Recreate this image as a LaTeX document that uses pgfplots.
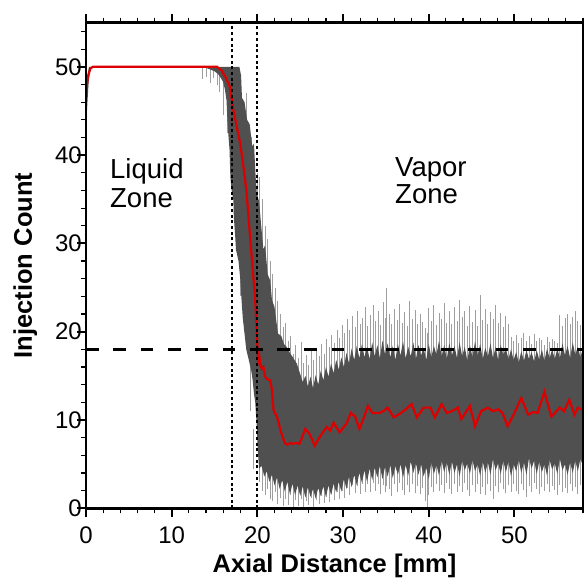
\documentclass[border=0pt]{standalone}
\usepackage{fontspec}
\setmainfont{Liberation Sans}
\usepackage{pgfplots}
\usepackage{pgfplotstable}
\pgfplotsset{compat=1.18}
\definecolor{coregray}{HTML}{505050}
\definecolor{spikegray}{HTML}{9E9E9E}
\definecolor{meanred}{HTML}{DD0000}

% light-gray outlier spikes: x, lowest value, highest value
\pgfplotstableread{
x lo hi
13.6 48.6 50
14.1 48.9 50
14.5 48.2 50
14.9 48.7 50
15.3 47.9 50
15.6 47.2 50
16.1 44.5 49
16.5 42.5 47.5
16.9 38.0 44.0
17.4 33.0 38.5
18.0 24.0 30.0
18.5 20.0 25.0
18.7 38.0 47.0
19.2 11.0 17.0
19.3 34.0 42.0
19.6 4.5 9.0
20.0 30.0 38.0
20.3 3.0 37.5
20.6 2.0 35.0
20.9 1.5 32.0
21.2 2.2 30.5
21.5 1.0 28.0
21.8 0.8 26.5
22.1 1.8 25.0
22.4 0.5 23.5
22.7 1.2 22.0
23.0 0.3 20.5
23.3 1.0 21.0
23.6 0.4 19.0
23.9 1.5 19.5
24.2 0.2 17.5
24.5 0.9 18.5
24.8 0.3 17.0
25.1 1.1 18.8
25.4 0.1 16.5
25.7 0.8 17.4
26.0 0.4 16.2
26.3 1.2 17.8
26.6 0.2 16.8
26.9 0.9 18.0
27.2 0.5 17.2
27.5 1.4 18.6
27.8 0.6 17.5
28.1 1.3 19.2
28.4 0.7 18.3
28.7 1.6 19.6
29.0 0.9 18.7
29.3 1.8 20.2
29.6 1.0 19.3
29.9 2.0 20.8
30.2 1.2 19.8
30.5 2.3 21.4
30.8 1.5 20.2
31.1 2.6 21.8
31.4 1.7 20.5
31.7 2.5 22.3
32.0 1.6 20.9
32.3 2.8 21.6
32.6 1.9 22.8
32.9 2.7 20.6
33.2 1.8 21.9
33.5 2.9 23.0
33.8 2.0 21.2
34.1 2.8 22.4
34.4 1.6 20.8
34.7 2.6 23.4
35.0 1.9 21.5
35.1 2.5 25.0
35.4 2.2 22.0
35.7 1.4 20.9
36.0 2.7 22.6
36.3 1.8 21.3
36.6 2.9 23.1
36.9 2.1 21.0
37.2 1.5 22.2
37.5 2.6 20.7
37.8 1.9 23.5
38.1 2.8 21.4
38.4 1.7 22.5
38.7 2.5 20.9
39.0 1.6 22.0
39.3 2.3 21.1
39.6 0.8 20.4
39.8 0.0 19.8
40.0 1.5 22.7
40.3 2.4 21.2
40.6 1.8 23.0
40.9 2.8 20.8
41.2 2.0 22.1
41.5 2.6 21.4
41.8 1.7 23.3
42.1 2.9 21.0
42.4 2.2 22.4
42.7 1.6 20.9
43.0 2.7 22.8
43.3 1.9 21.2
43.6 2.5 23.6
43.9 1.8 21.7
44.2 2.9 22.3
44.5 2.1 20.6
44.8 1.4 22.9
45.1 2.6 21.1
45.4 1.9 22.5
45.7 2.8 20.7
46.0 1.6 24.2
46.3 2.4 21.3
46.6 1.5 22.6
46.9 2.7 20.9
47.2 2.0 22.2
47.5 1.1 21.4
47.8 2.5 23.0
48.1 1.8 21.0
48.4 2.9 22.1
48.7 2.2 20.5
49.0 1.7 21.8
49.3 2.6 20.9
49.6 1.9 19.4
49.9 2.8 18.9
50.2 2.0 19.6
50.5 1.6 18.7
50.8 2.7 19.3
51.1 2.1 19.8
51.4 1.3 18.9
51.7 2.5 19.5
52.0 1.8 18.6
52.3 2.9 19.7
52.6 2.2 18.9
52.9 1.6 19.3
53.2 2.4 19.1
53.5 2.0 18.5
53.8 2.7 19.4
54.1 1.9 18.8
54.4 2.5 19.2
54.7 2.1 19.0
55.0 1.5 18.7
55.3 2.6 21.9
55.6 1.8 20.6
55.9 2.3 21.6
56.2 1.7 22.0
56.5 2.8 20.9
56.8 2.0 21.7
57.1 2.4 22.3
57.4 1.6 21.2
57.7 2.6 20.8
57.95 2.0 21.5
}\spikes

\begin{document}
\begin{tikzpicture}
\begin{axis}[
  scale only axis,
  width=497bp, height=485.6bp,
  xmin=0, xmax=58, ymin=0, ymax=55,
  xtick={0,10,20,30,40,50},
  ytick={0,10,20,30,40,50},
  minor xtick={0,2,...,58},
  minor ytick={0,2,...,54},
  tick align=outside,
  xtick pos=both,
  ytick pos=left,
  axis line style={line width=2.5bp},
  major tick length=9bp,
  minor tick length=5bp,
  major tick style={line width=2bp, black},
  minor tick style={line width=1.2bp, black},
  /pgf/number format/assume math mode=true,
  ticklabel style={font=\fontsize{24bp}{28bp}\selectfont},
  xticklabel style={anchor=base, yshift=-25.7bp},
  yticklabel style={anchor=east, inner sep=0pt, xshift=5bp},
  xlabel={Axial Distance [mm]},
  ylabel={Injection Count},
  xlabel style={font=\bfseries\fontsize{25.5bp}{30bp}\selectfont,
    at={(axis description cs:0.5,-0.1332)}, anchor=base},
  ylabel style={font=\bfseries\fontsize{25.5bp}{30bp}\selectfont,
    at={(axis description cs:-0.1087,0.5)}, anchor=base},
  axis on top,
]
% outlier spikes
\addplot[draw=none, forget plot,
  error bars/.cd, y dir=plus, y explicit, error mark=none,
  error bar style={draw=spikegray, line width=1bp}]
  table[x=x, y=lo, y error plus expr=\thisrow{hi}-\thisrow{lo}] {\spikes};
% dense band
\addplot[fill=coregray, draw=none, forget plot] coordinates {
(0,43.8) (0.1,47) (0.2,49.2) (0.35,50) (17.9,50)
(18.1,49.0) (18.2,46.5) (18.5,46.0) (18.8,44.0) (19.1,43.5) (19.4,41.0) (19.6,41.3)
(19.8,37.5) (19.95,35.5) (20.2,34.8) (20.4,32.5) (20.7,29.3) (20.9,29.8) (21.2,26.5)
(21.5,25.8) (21.7,23.6) (22.0,22.8) (22.4,19.8) (22.8,19.5) (23.1,18.6) (23.4,18.3)
(23.8,17.6) (24.2,17.0) (24.6,16.4) (25.0,15.2)
(25.3,14.3) (25.6,15.0) (25.9,13.8) (26.2,14.9) (26.5,13.6) (26.8,15.1) (27.1,14.0)
(27.4,15.6) (27.7,14.5) (28.0,16.0) (28.3,14.9) (28.6,16.4) (28.9,15.3) (29.2,16.8)
(29.5,15.7) (29.8,17.1) (30.1,16.0) (30.4,17.6) (30.7,16.4) (31.0,18.1) (31.3,16.8)
(31.6,18.4) (31.9,17.0) (32.2,18.6) (32.5,17.1) (32.8,18.3) (33.1,16.9) (33.4,18.8)
(33.7,17.2) (34.0,18.5) (34.3,17.0) (34.6,19.0) (34.9,17.4) (35.2,18.7) (35.5,17.1)
(35.8,18.4) (36.1,16.8) (36.4,18.6) (36.7,17.3) (37.0,18.9) (37.3,17.0) (37.6,18.3)
(37.9,17.2) (38.2,18.8) (38.5,16.9) (38.8,18.5) (39.1,17.3) (39.4,18.2) (39.7,16.8)
(40.0,18.6) (40.3,17.1) (40.6,18.4) (40.9,17.4) (41.2,19.0) (41.5,17.2) (41.8,18.5)
(42.1,16.9) (42.4,18.7) (42.7,17.3) (43.0,18.4) (43.3,17.0) (43.6,18.8) (43.9,17.2)
(44.2,18.3) (44.5,16.7) (44.8,18.5) (45.1,17.1) (45.4,18.9) (45.7,17.3) (46.0,18.6)
(46.3,16.9) (46.6,18.2) (46.9,17.2) (47.2,18.7) (47.5,17.0) (47.8,18.3) (48.1,16.8)
(48.4,18.5) (48.7,17.4) (49.0,18.1) (49.3,16.9) (49.6,18.0) (49.9,16.8) (50.2,17.7)
(50.5,16.5) (50.8,17.8) (51.1,16.7) (51.4,17.9) (51.7,16.9) (52.0,17.7) (52.3,16.6)
(52.6,17.9) (52.9,16.8) (53.2,18.0) (53.5,16.7) (53.8,18.1) (54.1,17.0) (54.4,18.0)
(54.7,16.9) (55.0,18.1) (55.3,17.0) (55.6,18.7) (55.9,17.3) (56.2,18.4) (56.5,17.0)
(56.8,18.8) (57.1,17.4) (57.4,18.3) (57.7,17.1) (58.0,18.2)
(58.0,4.8) (57.7,5.6) (57.4,4.2) (57.1,5.4) (56.8,4.0) (56.5,5.2) (56.2,3.8) (55.9,5.0)
(55.6,4.3) (55.3,5.6) (55.0,3.9) (54.7,5.1) (54.4,4.4) (54.1,5.5) (53.8,3.7) (53.5,5.0)
(53.2,4.1) (52.9,5.3) (52.6,3.9) (52.3,5.4) (52.0,4.5) (51.7,5.7) (51.4,3.8) (51.1,5.2)
(50.8,4.0) (50.5,5.5) (50.2,4.2) (49.9,5.0) (49.6,3.6) (49.3,5.3) (49.0,4.1) (48.7,5.4)
(48.4,3.9) (48.1,5.1) (47.8,4.3) (47.5,5.6) (47.2,3.8) (46.9,5.2) (46.6,4.0) (46.3,5.3)
(46.0,3.7) (45.7,5.0) (45.4,4.2) (45.1,5.5) (44.8,3.9) (44.5,5.1) (44.2,4.3) (43.9,5.4)
(43.6,3.6) (43.3,5.0) (43.0,4.0) (42.7,5.3) (42.4,3.8) (42.1,5.2) (41.8,4.1) (41.5,5.4)
(41.2,3.7) (40.9,4.9) (40.6,3.9) (40.3,5.2) (40.0,3.3) (39.7,4.6) (39.4,3.6) (39.1,5.0)
(38.8,3.8) (38.5,5.1) (38.2,4.0) (37.9,5.3) (37.6,3.7) (37.3,4.9) (37.0,3.5) (36.7,5.0)
(36.4,3.8) (36.1,4.8) (35.8,3.4) (35.5,4.9) (35.2,3.6) (34.9,4.7) (34.6,3.3) (34.3,4.8)
(34.0,3.5) (33.7,4.6) (33.4,3.2) (33.1,4.5) (32.8,3.0) (32.5,4.3) (32.2,2.9) (31.9,4.0)
(31.6,2.6) (31.3,3.8) (31.0,2.4) (30.7,3.6) (30.4,2.2) (30.1,3.3) (29.8,1.9) (29.5,3.0)
(29.2,1.8) (28.9,2.8) (28.6,1.5) (28.3,2.6) (28.0,1.3) (27.7,2.5) (27.4,1.4) (27.1,2.3)
(26.8,1.1) (26.5,2.2) (26.2,1.3) (25.9,2.4) (25.6,1.2) (25.3,2.5) (25.0,1.4) (24.7,2.6)
(24.4,1.5) (24.1,2.8) (23.8,1.6) (23.5,3.0) (23.2,1.9) (22.9,3.2) (22.6,2.2) (22.3,3.5)
(22.0,2.6) (21.7,3.8) (21.4,3.0) (21.1,4.2) (20.8,3.6) (20.5,4.8) (20.2,4.5) (20.05,6.5)
(19.95,9) (19.85,10.5) (19.75,12) (19.6,13) (19.45,14.5) (19.3,15.5) (19.0,16.8)
(18.7,18.0) (18.5,19.8) (18.3,21.5) (18.15,23.6) (18.0,26.0) (17.8,28.0) (17.5,29.3)
(17.4,31.0) (17.25,33.0) (17.2,34.9) (17.0,36.0) (16.85,37.5) (16.8,39.0) (16.75,40.6)
(16.6,42.5) (16.5,44.0) (16.4,46.2) (16.2,47.5) (16.0,48.3) (15.7,48.8) (15.4,49.2)
(15.0,49.5) (14.5,49.7) (14.0,49.9) (13.5,50) (0.6,50) (0.45,49.3) (0.3,48.2)
(0.2,46.5) (0.1,44.8) (0.05,43.8)
} -- cycle;
% mean
\addplot[meanred, line width=2.2bp, forget plot] coordinates {
(0,46.5) (0.2,48.8) (0.5,49.8) (0.8,50) (15.3,50) (15.8,49.6) (16.3,48.8) (16.8,47.7)
(17.2,45.1) (17.6,43.2) (18.0,41.3) (18.4,38.5) (18.75,35.7) (19.0,32.5) (19.3,28.9)
(19.5,26.5) (19.7,24.4) (19.85,21.5) (19.95,19.4) (20.05,17.5) (20.1,16.8) (20.2,16.5)
(20.25,17.0) (20.35,16.3) (20.5,15.8) (20.7,16.0) (20.9,14.9) (21.2,14.6) (21.5,14.5)
(21.7,13.4) (21.8,12.0) (21.9,11.1) (22.0,10.8) (22.2,10.6) (22.4,10.0) (22.6,9.2)
(22.9,8.2) (23.2,7.4) (23.5,7.2) (23.8,7.4) (24.1,7.3) (24.5,7.4) (24.9,7.3) (25.2,8.0)
(25.6,9.0) (26.1,8.4) (26.7,7.1) (27.1,7.8) (27.5,8.4) (28.1,9.2) (28.5,8.8) (28.9,9.7)
(29.6,8.6) (30.0,9.1) (30.4,9.6) (30.9,10.8) (31.4,10.4) (31.9,9.0) (32.4,10.2)
(32.9,11.6) (33.4,10.8) (34.2,10.8) (34.7,11.0) (35.2,11.4) (35.9,10.3) (36.6,10.7)
(37.3,11.2) (38.0,11.8) (38.6,10.3) (39.4,11.4) (40.2,11.4) (40.7,10.3) (41.5,11.8)
(42.1,10.8) (42.7,11.0) (43.4,11.4) (43.8,10.1) (44.8,11.6) (45.4,9.3) (46.1,11.0)
(46.9,11.4) (47.5,11.0) (48.1,11.2) (48.6,10.8) (49.2,9.3) (50.0,10.8) (50.8,12.5)
(51.6,10.6) (52.2,10.9) (52.7,10.8) (53.5,13.2) (54.3,10.4) (54.8,10.9) (55.3,11.4)
(55.8,11.0) (56.4,12.3) (57.0,10.6) (57.4,11.4) (57.8,11.2) (58,11.3)
};
% threshold and zone boundaries
\addplot[black, line width=3bp, dash pattern=on 12.7bp off 14.6bp, forget plot]
  coordinates {(0,18) (58,18)};
\addplot[black, line width=2.2bp, dash pattern=on 3bp off 2.7bp, forget plot]
  coordinates {(17,0) (17,55)};
\addplot[black, line width=2.2bp, dash pattern=on 3bp off 2.7bp, forget plot]
  coordinates {(20,0) (20,55)};
\node[anchor=base west, inner sep=0pt, font=\fontsize{27.5bp}{30bp}\selectfont]
  at (axis cs:2.8,37.4) {Liquid};
\node[anchor=base west, inner sep=0pt, font=\fontsize{27.5bp}{30bp}\selectfont]
  at (axis cs:2.8,34.1) {Zone};
\node[anchor=base west, inner sep=0pt, font=\fontsize{27.5bp}{30bp}\selectfont]
  at (axis cs:36.06,37.55) {Vapor};
\node[anchor=base west, inner sep=0pt, font=\fontsize{27.5bp}{30bp}\selectfont]
  at (axis cs:36.06,34.5) {Zone};
\end{axis}
\pgfresetboundingbox
\path[use as bounding box] (-86bp,-71.7bp) rectangle (499bp,508.3bp);
\end{tikzpicture}
\end{document}
